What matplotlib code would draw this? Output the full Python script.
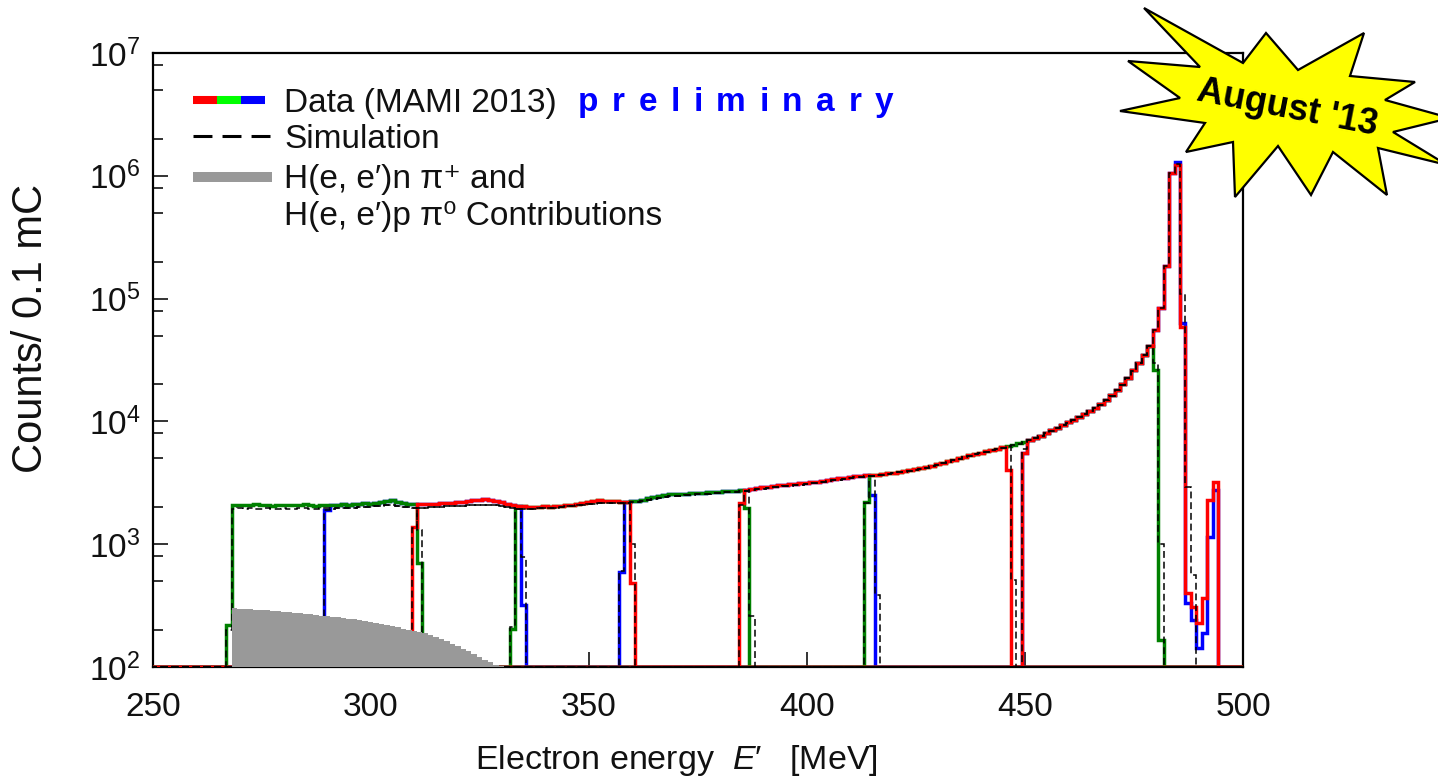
import numpy as np
import matplotlib
matplotlib.use("Agg")
import matplotlib.pyplot as plt
from matplotlib.lines import Line2D
from matplotlib.patches import Polygon
from matplotlib.ticker import LogLocator, NullFormatter

plt.rcParams['font.family'] = ['Liberation Sans', 'DejaVu Sans']
plt.rcParams['mathtext.fontset'] = 'custom'
plt.rcParams['mathtext.rm'] = 'Liberation Sans'
plt.rcParams['mathtext.it'] = 'Liberation Sans:italic'
plt.rcParams['mathtext.bf'] = 'Liberation Sans:bold'

# ---- data ----
BIN = 1.25          # MeV per bin
E_LO = 266.8        # lower edge of bin k = 0
FLOOR = 100         # empty bins sit on the bottom of the plot

# measured spectrum (counts / 0.1 mC), bin k = 0 .. 175
data_cont = [
    2090, 2080, 2100, 2070, 2090, 2110, 2080, 2090, 2060, 2080,
    2100, 2090, 2070, 2080, 2110, 2090, 2060, 2080, 2100, 2090,
    2080, 2110, 2100, 2130, 2120, 2150, 2140, 2180, 2200, 2250,
    2300, 2220, 2150, 2140, 2130, 2120, 2110, 2130, 2140, 2150,
    2160, 2180, 2200, 2220, 2250, 2280, 2300, 2320, 2300, 2260,
    2200, 2140, 2080, 2040, 2030, 2020, 2010, 2020, 2030, 2020,
    2040, 2060, 2080, 2100, 2130, 2160, 2200, 2240, 2280, 2260,
    2250, 2230, 2220, 2220, 2230, 2260, 2300, 2360, 2420, 2480,
    2520, 2540, 2560, 2570, 2580, 2590, 2600, 2620, 2640, 2660,
    2680, 2700, 2710, 2730, 2750, 2770, 2800, 2850, 2900, 2940,
    2980, 3010, 3040, 3070, 3100, 3130, 3160, 3200, 3240, 3280,
    3330, 3380, 3430, 3480, 3530, 3570, 3600, 3630, 3660, 3690,
    3730, 3780, 3830, 3880, 3940, 4000, 4070, 4150, 4240, 4340,
    4480, 4620, 4760, 4890, 5020, 5150, 5290, 5430, 5580, 5720,
    5860, 6000, 6150, 6300, 6460, 6640, 6850, 7070, 7330, 7620,
    8050, 8450, 8900, 9350, 9800, 10300, 10850, 11450, 12100, 12900,
    13800, 14900, 16300, 18000, 20000, 22500, 26000, 30000, 35000, 41000,
    55000, 84000, 183000, 1050000, 1260000, 60000,
]

# simulation, bin k = 0 .. 177
sim_cont = [
    1960, 1950, 1970, 1940, 1960, 1950, 1930, 1960, 1950, 1940,
    1960, 1950, 1940, 1960, 1970, 1950, 1940, 1960, 1970, 1950,
    1960, 1980, 1970, 1990, 2000, 2010, 2020, 2040, 2060, 2080,
    2100, 2060, 2020, 2000, 1990, 1980, 1990, 2000, 2010, 2020,
    2030, 2040, 2050, 2060, 2070, 2080, 2090, 2100, 2090, 2070,
    2040, 2000, 1970, 1950, 1940, 1940, 1950, 1960, 1970, 1980,
    1990, 2010, 2030, 2050, 2070, 2090, 2110, 2130, 2150, 2160,
    2160, 2160, 2170, 2180, 2190, 2210, 2240, 2280, 2330, 2380,
    2420, 2450, 2470, 2490, 2500, 2520, 2540, 2560, 2580, 2600,
    2620, 2640, 2660, 2680, 2700, 2720, 2750, 2790, 2830, 2870,
    2910, 2940, 2970, 3000, 3030, 3060, 3100, 3140, 3180, 3220,
    3260, 3310, 3360, 3410, 3460, 3500, 3530, 3560, 3600, 3640,
    3680, 3730, 3780, 3840, 3900, 3960, 4030, 4110, 4200, 4300,
    4430, 4570, 4710, 4840, 4970, 5100, 5240, 5380, 5530, 5670,
    5810, 5960, 6110, 6260, 6420, 6600, 6800, 7020, 7280, 7570,
    8000, 8400, 8850, 9300, 9750, 10250, 10800, 11400, 12050, 12850,
    13700, 14800, 16200, 17900, 19900, 22400, 25900, 29900, 34900, 40900,
    55000, 84000, 183000, 1050000, 1250000, 110000, 2950, 560,
]

# spectrometer settings: first and last bin of each
green_win = [(0, 35), (52, 95), (117, 171)]
blue_win = [(18, 54), (72, 118), (146, 181)]
red_win = [(34, 74), (94, 143), (146, 181)]

# acceptance edges and elastic tail, per colour
green_edge = {0: 220, 35: 700, 52: 205, 95: 1980, 117: 2200, 170: 26000, 171: 165}
blue_edge = {18: 1900, 54: 320, 72: 595, 118: 2500, 146: 5500,
             174: 1300000, 175: 63000, 176: 330, 177: 240, 178: 143,
             179: 190, 180: 1140, 181: 2760}
red_edge = {34: 1380, 74: 480, 94: 2150, 143: 4020, 146: 5500,
            174: 1220000, 175: 59000, 176: 400, 177: 310, 178: 227,
            179: 362, 180: 2290, 181: 3230}

sim_win = [(0, 35), (18, 54), (34, 74), (52, 96), (72, 119), (94, 144),
           (117, 171), (146, 177)]
sim_edge = [
    {0: 200, 35: 1300},
    {18: 1900, 54: 790},
    {34: 1350, 74: 1000},
    {52: 210, 96: 260},
    {72: 600, 119: 385},
    {94: 2100, 144: 510},
    {117: 2150, 170: 30000, 171: 1000},
    {146: 6000},
]

# pion production background, bins k = 1 .. 50
bg_first = 1
bg_vals = [
    300, 299, 297, 295, 293, 291, 289, 286, 284, 281,
    279, 276, 273, 271, 268, 265, 262, 259, 256, 253,
    250, 247, 244, 240, 236, 232, 228, 224, 220, 215,
    210, 205, 201, 197, 193, 188, 182, 176, 169, 162,
    155, 148, 141, 134, 127, 120, 114, 109, 104, 101,
]

# ---- drawing ----
OFF = 14                              # bins from 249.3 up to E_LO
N_FULL = 201
full_edges = (E_LO - OFF * BIN) + BIN * np.arange(N_FULL + 1)


def window_counts(cont, start, stop, edge):
    vals = np.full(N_FULL, float(FLOOR))
    for k in range(start, stop + 1):
        if k in edge:
            vals[k + OFF] = edge[k]
        else:
            vals[k + OFF] = cont[k]
    return vals


W, H = 1438, 779
fig = plt.figure(figsize=(W / 100, H / 100), dpi=100)
ax = fig.add_axes([153 / W, 1 - 667 / H, 1090 / W, 614 / H])

for wins, edge, col, z in [(blue_win, blue_edge, '#0000ff', 2),
                           (green_win, green_edge, '#008000', 3),
                           (red_win, red_edge, '#ff0000', 4)]:
    for s, e in wins:
        ax.stairs(window_counts(data_cont, s, e, edge), full_edges,
                  baseline=None, color=col, lw=2.5, zorder=z)

for (s, e), edge in zip(sim_win, sim_edge):
    ax.stairs(window_counts(sim_cont, s, e, edge), full_edges, baseline=None,
              color='black', lw=1.1, linestyle=(0, (4.5, 2.5)), zorder=5)

bg_edges = E_LO + BIN * np.arange(bg_first, bg_first + len(bg_vals) + 1)
ax.stairs(bg_vals, bg_edges, baseline=FLOOR, fill=True, color='#999999',
          lw=0, zorder=6)

ax.set_yscale('log')
ax.set_xlim(250, 500)
ax.set_ylim(1e2, 1e7)
ax.set_xticks([250, 300, 350, 400, 450, 500])
ax.yaxis.set_major_locator(LogLocator(base=10, numticks=10))
ax.yaxis.set_minor_locator(LogLocator(base=10, subs=(2, 5, 8), numticks=10))
ax.yaxis.set_minor_formatter(NullFormatter())
ax.tick_params(which='both', direction='in', top=False, right=False,
               labelsize=24, colors='#111111', width=1.2)
ax.tick_params(axis='x', which='major', length=11, pad=18)
ax.tick_params(axis='y', which='major', length=11, pad=9)
ax.tick_params(axis='y', which='minor', length=7)
for sp in ax.spines.values():
    sp.set_linewidth(1.6)

fig.text(676 / W, 1 - 769 / H, "Electron energy  $E$\u2032   [MeV]",
         fontsize=24.5, ha='center', va='baseline', color='#111111')
fig.text(31 / W, 1 - 328 / H, "Counts/ 0.1 mC", fontsize=30, rotation=90,
         ha='center', va='center', color='#111111')

# legend, drawn by hand
def fig_line(x0, x1, y, **kw):
    fig.add_artist(Line2D([x0 / W, x1 / W], [1 - y / H, 1 - y / H],
                          transform=fig.transFigure, solid_capstyle='butt', **kw))


fig_line(193, 217, 100, color='#ff0000', lw=5.8)
fig_line(217, 241, 100, color='#00ff00', lw=5.8)
fig_line(241, 265, 100, color='#0000ff', lw=5.8)
fig_line(193, 272, 136, color='black', lw=2.2, dash_capstyle='butt',
         linestyle=(0, (6.2, 3.3)))
fig_line(193, 272, 177, color='#999999', lw=7.2)

tx = 284 / W
fig.text(tx, 1 - 112 / H, "Data (MAMI 2013)", fontsize=24, color='#111111')
fig.text(tx, 1 - 148 / H, "Simulation", fontsize=24, color='#111111')
fig.text(tx, 1 - 188 / H, "H(e, e\u2032)n \u03c0\u207a and", fontsize=24,
         color='#111111')
fig.text(tx, 1 - 225 / H, "H(e, e\u2032)p \u03c0\u2070 Contributions",
         fontsize=24, color='#111111')

# spaced-out "preliminary", one letter at a time
renderer = fig.canvas.get_renderer()
px = 578.0
for ch in "preliminary":
    t = fig.text(px / W, 1 - 111 / H, ch, fontsize=24, color='#0000ff',
                 fontweight='bold')
    px += t.get_window_extent(renderer).width + 13.5

# "August '13" burst
star_px = [(1144, 8), (1243, 63), (1266, 33), (1298, 70), (1364, 33),
           (1350, 76), (1415, 82), (1385, 100), (1450, 118), (1393, 132),
           (1447, 165), (1378, 148), (1387, 195), (1333, 152), (1311, 195),
           (1278, 146), (1235, 197), (1233, 142), (1186, 152), (1205, 123),
           (1120, 111), (1180, 98), (1128, 61), (1200, 67)]
star = Polygon([(x / W, 1 - y / H) for x, y in star_px], closed=True,
               transform=fig.transFigure, facecolor='#ffff00',
               edgecolor='black', lw=1.6, zorder=10)
fig.add_artist(star)
fig.text(1287 / W, 1 - 108 / H, "August '13", fontsize=26, fontweight='bold',
         rotation=-11, ha='center', va='center', zorder=11)

fig.savefig("out.png", dpi=100)
